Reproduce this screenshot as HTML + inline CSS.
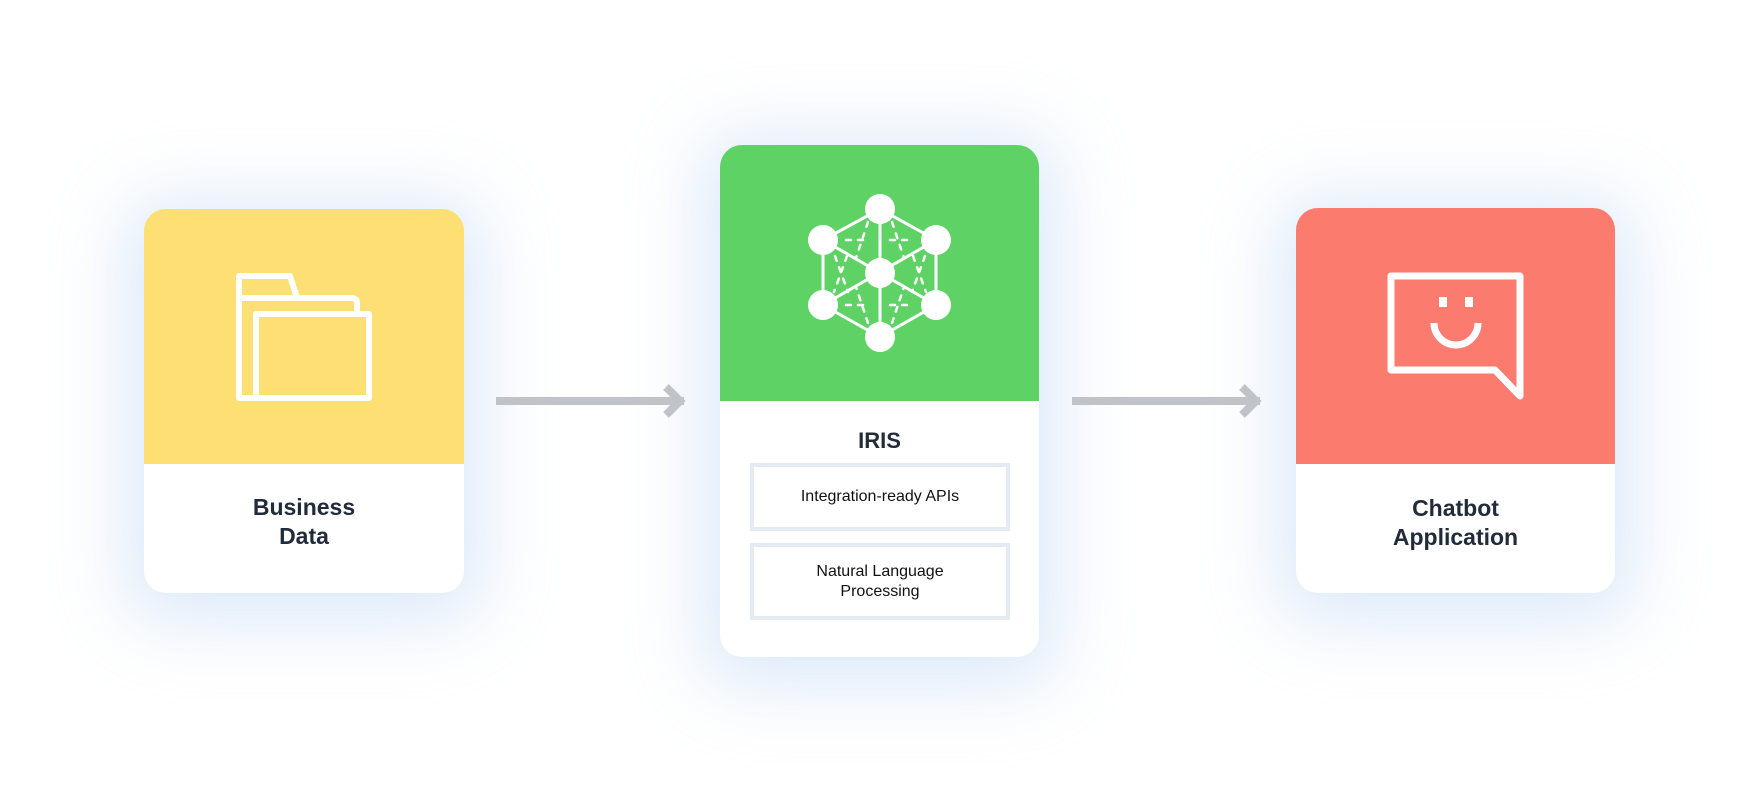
<!DOCTYPE html>
<html><head><meta charset="utf-8"><style>
html,body{margin:0;padding:0;background:#fff;}
body{width:1760px;height:801px;position:relative;overflow:hidden;font-family:"Liberation Sans",sans-serif;}
.card{position:absolute;background:#fff;border-radius:22px;overflow:hidden;box-shadow:0 10px 70px 20px rgba(180,208,242,0.45);}
.top{position:absolute;left:0;top:0;right:0;}
.lbl{position:absolute;left:0;right:0;text-align:center;font-weight:bold;color:#222b3a;font-size:23px;line-height:29px;}
.box{position:absolute;left:30px;width:260px;border:4px solid #e5ebf0;box-sizing:border-box;text-align:center;color:#111;font-size:16px;display:flex;align-items:center;justify-content:center;line-height:20px;}
svg{position:absolute;left:0;top:0;}
</style></head><body>

<div class="card" style="left:144px;top:209px;width:320px;height:384px;">
  <div class="top" style="height:255px;background:#fedf73;"></div>
  <svg width="320" height="255" viewBox="144 209 320 255">
    <g fill="none" stroke="#fff" stroke-width="6" stroke-linejoin="round">
      <path d="M256 398 H239 V276 H290 L297 298 H352 Q357 298 357 303 V314"/>
      <line x1="239" y1="298" x2="298" y2="298"/>
      <rect x="256" y="314" width="113" height="84"/>
    </g>
  </svg>
  <div class="lbl" style="top:284px;">Business<br>Data</div>
</div>

<div class="card" style="left:720px;top:145px;width:319px;height:512px;">
  <div class="top" style="height:256px;background:#5fd266;"></div>
  <svg width="319" height="256" viewBox="720 145 319 256">
    <g stroke="#fff" stroke-width="3" fill="none">
      <polygon points="880,209 936,240 936,305 880,337 823,305 823,240"/>
      <line x1="880" y1="209" x2="880" y2="337"/>
      <line x1="823" y1="240" x2="936" y2="305"/>
      <line x1="936" y1="240" x2="823" y2="305"/>
    </g>
    <g stroke="#fff" stroke-width="2.5" stroke-linecap="round" stroke-dasharray="5 7" fill="none">
      <line x1="846" y1="240" x2="870" y2="240"/>
      <line x1="890" y1="240" x2="914" y2="240"/>
      <line x1="846" y1="305" x2="870" y2="305"/>
      <line x1="890" y1="305" x2="914" y2="305"/>
      <line x1="868" y1="222" x2="856" y2="258"/>
      <line x1="892" y1="222" x2="904" y2="258"/>
      <line x1="868" y1="323" x2="856" y2="287"/>
      <line x1="892" y1="323" x2="904" y2="287"/>
      <line x1="835" y1="256" x2="848" y2="292"/>
      <line x1="847" y1="256" x2="834" y2="292"/>
      <line x1="925" y1="256" x2="912" y2="292"/>
      <line x1="913" y1="256" x2="926" y2="292"/>
    </g>
    <g fill="#fff">
      <circle cx="880" cy="209" r="15"/><circle cx="936" cy="240" r="15"/>
      <circle cx="936" cy="305" r="15"/><circle cx="880" cy="337" r="15"/>
      <circle cx="823" cy="305" r="15"/><circle cx="823" cy="240" r="15"/>
      <circle cx="880" cy="273" r="15"/>
    </g>
  </svg>
  <div class="lbl" style="top:281px;font-size:22px;">IRIS</div>
  <div class="box" style="top:318px;height:68px;">Integration-ready APIs</div>
  <div class="box" style="top:398px;height:77px;">Natural Language<br>Processing</div>
</div>

<div class="card" style="left:1296px;top:208px;width:319px;height:385px;">
  <div class="top" style="height:256px;background:#fb7b6f;"></div>
  <svg width="319" height="256" viewBox="1296 208 319 256">
    <g fill="none" stroke="#fff" stroke-width="7" stroke-linejoin="round" stroke-linecap="round">
      <path d="M1391 276 H1520 V396 L1495 370 H1391 Z"/>
      <path d="M1434 323 A22 22 0 0 0 1478 323" stroke-linecap="butt"/>
    </g>
    <rect x="1439" y="297" width="8" height="10" fill="#fff"/>
    <rect x="1465" y="297" width="8" height="10" fill="#fff"/>
  </svg>
  <div class="lbl" style="top:286px;">Chatbot<br>Application</div>
</div>

<svg width="1760" height="801" style="pointer-events:none">
  <g stroke="#c0c4c8" stroke-width="8" fill="none">
    <line x1="496" y1="401" x2="684" y2="401"/>
    <polyline points="666,387 680,401 666,415"/>
    <line x1="1072" y1="401" x2="1260" y2="401"/>
    <polyline points="1242,387 1256,401 1242,415"/>
  </g>
</svg>
</body></html>
